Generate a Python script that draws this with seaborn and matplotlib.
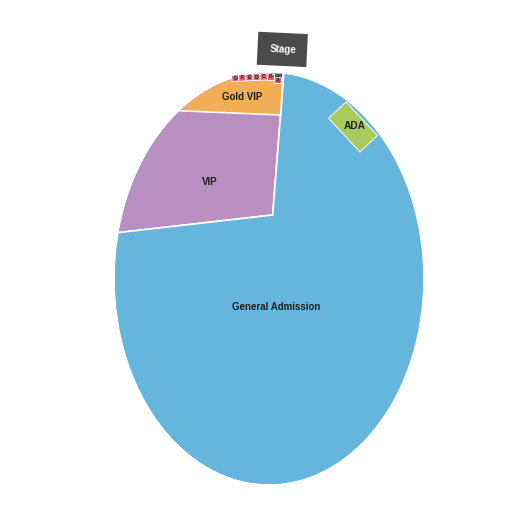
import numpy as np
import matplotlib
matplotlib.use("Agg")
import matplotlib.pyplot as plt
import seaborn as sns
from matplotlib.patches import Ellipse, Wedge, Polygon

sns.set_theme(style="white")
plt.rcParams['font.family'] = ['Liberation Sans', 'DejaVu Sans']

# Sections of the floor map
pie_sections = ["VIP", "General Admission"]
pie_degrees = [101, 259]          # angle each section takes around the hub
gold_label = "Gold VIP"
gold_degrees = 91
ada_label = "ADA"
stage_label = "Stage"
row_labels = ["G", "F", "E", "D", "C", "B", "A"]

# Colours
GA = "#66b5dc"
VIP = "#b98ec1"
GOLD = "#f2ad57"
ADA = "#a9cb5d"
ROW = "#d6697a"
STAGE = "#4b4b4b"
TXT = "#1f1f1f"


def rot_rect(cx, cy, w, h, angle, **kw):
    # rectangle centred on (cx, cy), turned by angle (degrees, clockwise on screen)
    t = np.deg2rad(angle)
    pts = np.array([[-w / 2, -h / 2], [w / 2, -h / 2], [w / 2, h / 2], [-w / 2, h / 2]])
    rot = np.array([[np.cos(t), -np.sin(t)], [np.sin(t), np.cos(t)]])
    pts = pts @ rot.T + [cx, cy]
    return Polygon(pts, closed=True, **kw)


fig = plt.figure(figsize=(5.25, 5.25), dpi=100)
ax = fig.add_axes([0, 0, 1, 1])

# floor outline
floor = Ellipse((269, 278.5), 308, 411, facecolor=GA, edgecolor="none")
ax.add_patch(floor)

# VIP / General Admission split around the hub
wedges, _ = ax.pie(pie_degrees, colors=[VIP, GA], startangle=173.5, radius=300,
                   center=(272.7, 215),
                   wedgeprops=dict(edgecolor="white", linewidth=1.2))
for w in wedges:
    w.set_clip_on(True)
    w.set_clip_path(floor)

# Gold VIP
gold = Wedge((280.7, 115), 150, 182.4, 182.4 + gold_degrees,
             facecolor=GOLD, edgecolor="white", linewidth=1.2)
ax.add_patch(gold)
gold.set_clip_path(floor)

# front rows
row_x = 235.3 + 7.1 * np.arange(len(row_labels))
row_y = [78.3, 77.8, 77.4, 77.1, 76.9, 76.8, 80.3]
row_a = [-6, -4, -3, -2, -1, 0, 2]
for lab, x, y, a in zip(row_labels, row_x, row_y, row_a):
    ax.add_patch(rot_rect(x, y, 7.1, 6.5, a, facecolor=ROW, edgecolor="white", linewidth=0.6))
    ax.text(x, y, lab, fontsize=3.8, fontweight="bold", color=TXT,
            ha="center", va="center", rotation=-a)
ax.add_patch(rot_rect(278.3, 75.5, 6.5, 3.0, 0, facecolor="#555555", edgecolor="none"))

# ADA platform
ax.add_patch(rot_rect(353, 126.9, 46, 24, 47, facecolor=ADA, edgecolor="#f4f4f4", linewidth=0.8))

# Stage
ax.add_patch(rot_rect(282.3, 49.4, 49.6, 33, 2.7, facecolor=STAGE, edgecolor="none"))

# labels
ax.text(275.7, 307.3, pie_sections[1], fontsize=7, fontweight="bold", color=TXT, ha="center", va="center")
ax.text(210, 181.7, pie_sections[0], fontsize=7, fontweight="bold", color=TXT, ha="center", va="center")
ax.text(242.3, 97.3, gold_label, fontsize=7, fontweight="bold", color=TXT, ha="center", va="center")
ax.text(354.3, 125.7, ada_label, fontsize=7.3, fontweight="bold", color=TXT, ha="center", va="center")
ax.text(283, 50, stage_label, fontsize=7, fontweight="bold", color="white", ha="center", va="center",
        rotation=-2.7)

ax.set_xlim(0, 525)
ax.set_ylim(525, 0)
ax.set_aspect("auto")
ax.axis("off")

fig.savefig("out.png", dpi=100)
